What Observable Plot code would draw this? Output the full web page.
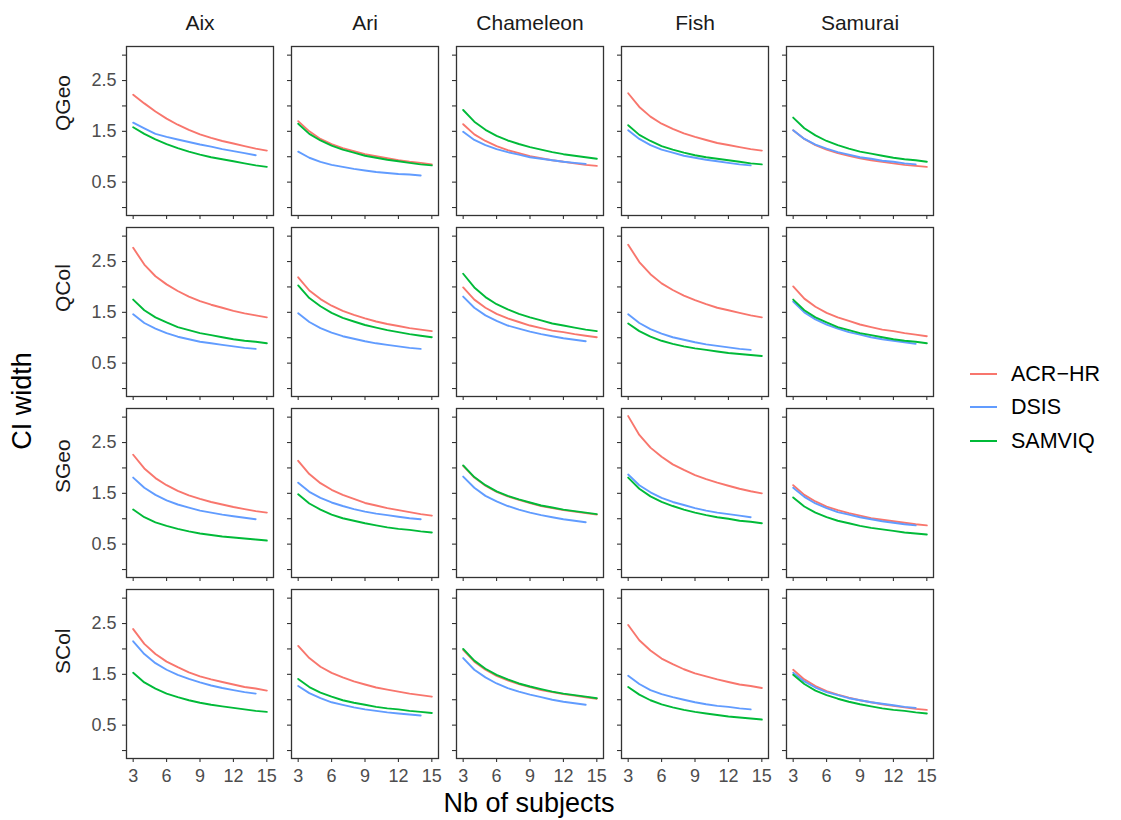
<!DOCTYPE html>
<html><head><meta charset="utf-8">
<script src="https://cdn.jsdelivr.net/npm/d3@7"></script>
<script src="https://cdn.jsdelivr.net/npm/@observablehq/plot@0.6"></script>
<style>
body{margin:0;background:#fff;font-family:"Liberation Sans",Arial,sans-serif;}
#wrap{position:relative;width:1121px;height:820px;overflow:hidden;}
#chart{position:absolute;left:0;top:0;}
#xtitle{position:absolute;left:124px;width:810px;text-align:center;top:790px;font-size:27px;line-height:27px;color:#000;}
#ytitle{position:absolute;left:22px;top:401px;transform:translate(-50%,-50%) rotate(-90deg);font-size:27px;line-height:27px;white-space:nowrap;color:#000;}
.lg{position:absolute;left:970px;height:0;}
.lg .key{position:absolute;left:0;top:-1px;width:27px;height:2px;}
.lg .lab{position:absolute;left:41px;top:-13px;font-size:21.5px;line-height:26px;white-space:nowrap;color:#000;}
</style></head><body>
<div id="wrap">
  <div id="chart"></div>
  <div id="xtitle">Nb of subjects</div>
  <div id="ytitle">CI width</div>
  <div id="legend"></div>
</div>
<script>
const scenes = ["Aix", "Ari", "Chameleon", "Fish", "Samurai"];
const conditions = ["QGeo", "QCol", "SGeo", "SCol"];
const methods = ["ACR-HR", "DSIS", "SAMVIQ"];
const methodLabels = ["ACR−HR", "DSIS", "SAMVIQ"];
const colors = ["#F8766D", "#619CFF", "#00BA38"];
const subjects = [3, 4, 5, 6, 7, 8, 9, 10, 11, 12, 13, 14, 15];
const subjectsDSIS = [3, 4, 5, 6, 7, 8, 9, 10, 11, 12, 13, 14];
const xTicks = [3, 6, 9, 12, 15];
const yTicks = [0, 0.5, 1, 1.5, 2, 2.5, 3];
const yLabelTicks = [0.5, 1.5, 2.5];

// values per scene (Aix, Ari, Chameleon, Fish, Samurai)
const acr_QGeo = [
 [2.22,2.05,1.89,1.75,1.63,1.53,1.44,1.37,1.31,1.26,1.21,1.16,1.12],
 [1.70,1.50,1.35,1.25,1.17,1.11,1.05,1.01,0.97,0.93,0.90,0.88,0.85],
 [1.64,1.44,1.31,1.21,1.13,1.07,1.01,0.97,0.93,0.90,0.87,0.84,0.82],
 [2.25,1.98,1.79,1.65,1.55,1.46,1.39,1.33,1.27,1.23,1.19,1.15,1.12],
 [1.52,1.35,1.23,1.14,1.07,1.02,0.97,0.93,0.90,0.87,0.84,0.82,0.80]];
const dsis_QGeo = [
 [1.67,1.56,1.45,1.39,1.34,1.29,1.24,1.20,1.15,1.11,1.07,1.03],
 [1.10,0.98,0.90,0.84,0.80,0.76,0.73,0.70,0.68,0.66,0.65,0.63],
 [1.49,1.33,1.23,1.15,1.09,1.04,0.99,0.96,0.93,0.90,0.88,0.86],
 [1.52,1.35,1.23,1.14,1.08,1.02,0.98,0.94,0.91,0.88,0.85,0.83],
 [1.52,1.35,1.24,1.16,1.09,1.04,0.99,0.96,0.92,0.90,0.87,0.85]];
const samviq_QGeo = [
 [1.58,1.45,1.34,1.25,1.17,1.10,1.04,0.99,0.95,0.91,0.87,0.83,0.80],
 [1.65,1.45,1.32,1.22,1.14,1.08,1.02,0.98,0.94,0.91,0.88,0.85,0.83],
 [1.92,1.69,1.53,1.41,1.32,1.25,1.19,1.14,1.09,1.05,1.02,0.99,0.96],
 [1.62,1.43,1.31,1.21,1.14,1.08,1.03,0.99,0.96,0.93,0.90,0.87,0.85],
 [1.77,1.56,1.42,1.31,1.23,1.16,1.10,1.06,1.02,0.98,0.95,0.93,0.90]];

const acr_QCol = [
 [2.77,2.44,2.21,2.05,1.92,1.81,1.72,1.65,1.59,1.53,1.48,1.44,1.40],
 [2.19,1.93,1.76,1.63,1.53,1.45,1.38,1.32,1.27,1.23,1.19,1.16,1.13],
 [1.99,1.75,1.59,1.47,1.38,1.31,1.24,1.19,1.14,1.11,1.07,1.04,1.01],
 [2.83,2.49,2.25,2.07,1.94,1.83,1.74,1.66,1.59,1.54,1.49,1.44,1.40],
 [2.01,1.77,1.61,1.49,1.40,1.33,1.26,1.21,1.16,1.13,1.09,1.06,1.03]];
const dsis_QCol = [
 [1.46,1.29,1.18,1.09,1.02,0.97,0.92,0.89,0.86,0.83,0.80,0.78],
 [1.48,1.31,1.19,1.10,1.03,0.98,0.93,0.89,0.86,0.83,0.80,0.78],
 [1.81,1.59,1.44,1.33,1.24,1.18,1.12,1.07,1.03,0.99,0.96,0.93],
 [1.46,1.29,1.17,1.08,1.01,0.96,0.91,0.87,0.84,0.81,0.78,0.76],
 [1.71,1.50,1.36,1.26,1.18,1.11,1.06,1.01,0.97,0.94,0.91,0.88]];
const samviq_QCol = [
 [1.75,1.54,1.40,1.30,1.21,1.15,1.09,1.05,1.01,0.97,0.94,0.92,0.89],
 [2.03,1.78,1.62,1.49,1.39,1.32,1.25,1.20,1.15,1.11,1.07,1.04,1.01],
 [2.26,1.99,1.80,1.66,1.56,1.47,1.40,1.34,1.28,1.24,1.20,1.16,1.13],
 [1.28,1.13,1.02,0.94,0.88,0.83,0.79,0.76,0.73,0.70,0.68,0.66,0.64],
 [1.75,1.54,1.40,1.30,1.21,1.15,1.09,1.05,1.01,0.97,0.94,0.92,0.89]];

const acr_SGeo = [
 [2.26,1.99,1.80,1.66,1.55,1.46,1.39,1.33,1.28,1.23,1.19,1.15,1.12],
 [2.14,1.88,1.70,1.57,1.47,1.39,1.31,1.26,1.21,1.17,1.13,1.09,1.06],
 [2.04,1.81,1.65,1.53,1.44,1.37,1.31,1.25,1.21,1.17,1.14,1.11,1.08],
 [3.02,2.65,2.40,2.22,2.07,1.96,1.86,1.78,1.71,1.65,1.59,1.54,1.50],
 [1.66,1.47,1.34,1.24,1.17,1.11,1.06,1.01,0.98,0.95,0.92,0.89,0.87]];
const dsis_SGeo = [
 [1.81,1.61,1.47,1.36,1.28,1.22,1.16,1.12,1.08,1.05,1.02,0.99],
 [1.71,1.53,1.41,1.32,1.25,1.19,1.14,1.10,1.07,1.04,1.01,0.99],
 [1.83,1.61,1.45,1.34,1.25,1.18,1.12,1.07,1.03,0.99,0.96,0.93],
 [1.87,1.66,1.52,1.41,1.33,1.27,1.21,1.16,1.12,1.09,1.06,1.03],
 [1.61,1.43,1.30,1.21,1.13,1.08,1.03,0.99,0.95,0.92,0.89,0.87]];
const samviq_SGeo = [
 [1.18,1.03,0.93,0.86,0.80,0.75,0.71,0.68,0.65,0.63,0.61,0.59,0.57],
 [1.48,1.30,1.18,1.08,1.01,0.96,0.91,0.87,0.83,0.80,0.78,0.75,0.73],
 [2.05,1.82,1.66,1.54,1.45,1.38,1.32,1.26,1.22,1.18,1.15,1.12,1.09],
 [1.81,1.59,1.44,1.33,1.25,1.18,1.12,1.07,1.03,1.00,0.96,0.94,0.91],
 [1.42,1.24,1.12,1.03,0.96,0.91,0.86,0.82,0.79,0.76,0.73,0.71,0.69]];

const acr_SCol = [
 [2.39,2.10,1.90,1.75,1.64,1.54,1.46,1.40,1.35,1.30,1.25,1.22,1.18],
 [2.06,1.82,1.65,1.53,1.44,1.36,1.30,1.24,1.20,1.16,1.12,1.09,1.06],
 [1.98,1.75,1.59,1.47,1.38,1.31,1.25,1.19,1.15,1.11,1.08,1.05,1.02],
 [2.47,2.17,1.97,1.81,1.70,1.60,1.52,1.46,1.40,1.35,1.30,1.27,1.23],
 [1.59,1.40,1.27,1.17,1.10,1.04,0.99,0.95,0.91,0.88,0.85,0.82,0.80]];
const dsis_SCol = [
 [2.15,1.90,1.72,1.59,1.49,1.41,1.34,1.28,1.23,1.19,1.15,1.12],
 [1.27,1.13,1.03,0.95,0.90,0.85,0.81,0.78,0.75,0.73,0.71,0.69],
 [1.82,1.59,1.44,1.32,1.23,1.16,1.10,1.05,1.00,0.96,0.93,0.90],
 [1.47,1.31,1.19,1.11,1.05,1.00,0.95,0.91,0.88,0.86,0.83,0.81],
 [1.53,1.36,1.24,1.15,1.09,1.03,0.99,0.95,0.92,0.89,0.86,0.84]];
const samviq_SCol = [
 [1.53,1.34,1.22,1.12,1.05,0.99,0.94,0.90,0.87,0.84,0.81,0.78,0.76],
 [1.41,1.25,1.14,1.06,0.99,0.94,0.90,0.86,0.83,0.81,0.78,0.76,0.74],
 [2.00,1.77,1.61,1.49,1.40,1.32,1.26,1.21,1.16,1.12,1.09,1.06,1.03],
 [1.25,1.10,0.99,0.91,0.85,0.80,0.76,0.73,0.70,0.67,0.65,0.63,0.61],
 [1.49,1.31,1.18,1.09,1.02,0.96,0.91,0.87,0.83,0.80,0.78,0.75,0.73]];

// assemble a long table from the arrays above
const table = {
  "ACR-HR": {QGeo: acr_QGeo, QCol: acr_QCol, SGeo: acr_SGeo, SCol: acr_SCol},
  "DSIS": {QGeo: dsis_QGeo, QCol: dsis_QCol, SGeo: dsis_SGeo, SCol: dsis_SCol},
  "SAMVIQ": {QGeo: samviq_QGeo, QCol: samviq_QCol, SGeo: samviq_SGeo, SCol: samviq_SCol}
};
const rows = [];
for (const cond of conditions) {
  scenes.forEach((scene, si) => {
    for (const m of methods) {
      const vals = table[m][cond][si];
      const ns = m === "DSIS" ? subjectsDSIS : subjects;
      vals.forEach((v, i) => rows.push({cond, scene, method: m, n: ns[i], v}));
    }
  });
}

const font = '"Liberation Sans", Arial, sans-serif';
const chart = Plot.plot({
  width: 1121, height: 820,
  marginLeft: 124, marginRight: 186.7, marginTop: 44, marginBottom: 60.7,
  style: {fontFamily: font, background: "transparent", overflow: "visible"},
  x: {domain: [2.4, 15.6], axis: null},
  y: {domain: [-0.157, 3.17], axis: null},
  fx: {domain: scenes, paddingInner: 0.1113, paddingOuter: 0, axis: null},
  fy: {domain: conditions, paddingInner: 0.0647, paddingOuter: 0, axis: null},
  color: {domain: methods, range: colors},
  marks: [
    Plot.line(rows, {x: "n", y: "v", stroke: "method", z: "method", fx: "scene", fy: "cond", strokeWidth: 1.9}),
    Plot.axisX({ticks: xTicks, tickSize: 4, tickFormat: () => "", color: "#333333", strokeWidth: 1.1, facetAnchor: null, label: null}),
    Plot.axisX({ticks: xTicks, tickSize: 0, tickPadding: 11, facetAnchor: "bottom", color: "#4D4D4D", fontSize: 18, label: null}),
    Plot.axisY({ticks: yTicks, tickSize: 4, tickFormat: () => "", color: "#333333", strokeWidth: 1.1, facetAnchor: null, label: null}),
    Plot.axisY({ticks: yLabelTicks, tickSize: 0, tickPadding: 10, tickFormat: d => d.toFixed(1), facetAnchor: "left", color: "#4D4D4D", fontSize: 18, label: null}),
    Plot.frame({stroke: "#333333", strokeWidth: 1.3}),
    Plot.text(scenes, {fx: d => d, fy: () => "QGeo", text: d => d, frameAnchor: "top", dy: -23.5, lineAnchor: "middle", fontSize: 21, fill: "#1A1A1A"}),
    Plot.text(conditions, {fy: d => d, fx: () => "Aix", text: d => d, frameAnchor: "left", dx: -63, rotate: -90, fontSize: 21, fill: "#1A1A1A"})
  ]
});
document.getElementById("chart").appendChild(chart);

const lg = document.getElementById("legend");
const legendY = [374, 407, 441];
methodLabels.forEach((lab, i) => {
  const d = document.createElement("div");
  d.className = "lg";
  d.style.top = legendY[i] + "px";
  d.innerHTML = `<div class="key" style="background:${colors[i]}"></div><div class="lab">${lab}</div>`;
  lg.appendChild(d);
});
</script>
</body></html>
